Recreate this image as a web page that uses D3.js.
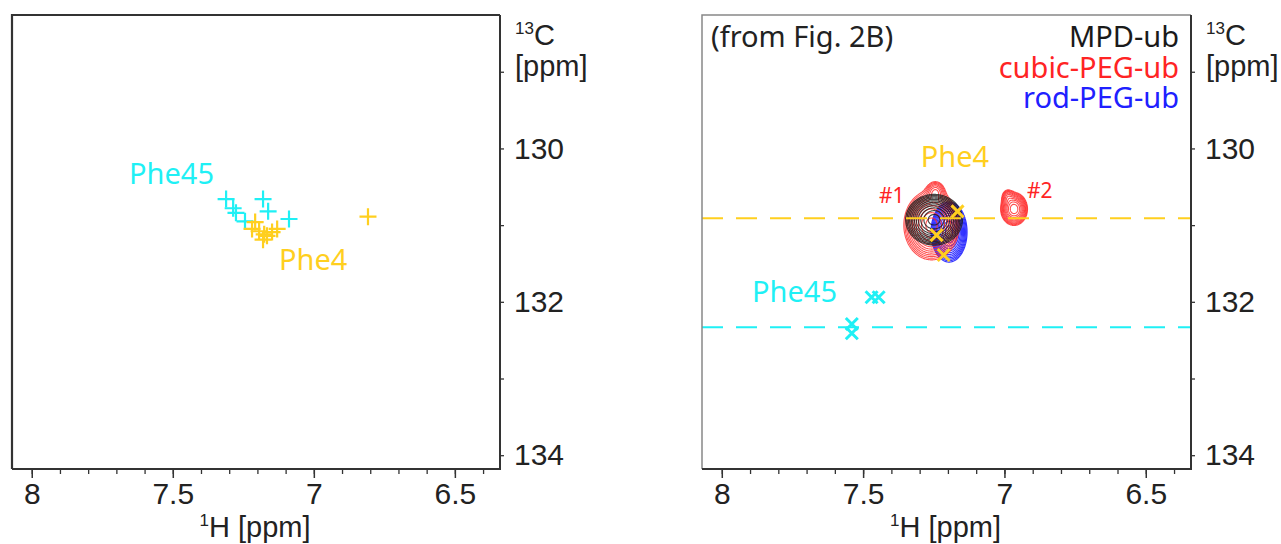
<!DOCTYPE html>
<html>
<head>
<meta charset="utf-8">
<script src="https://cdn.jsdelivr.net/npm/d3@7"></script>
<style>
  html, body { margin: 0; padding: 0; background: #fff; }
  svg { display: block; }
  .tick text { font-family: "Liberation Sans", Arial, sans-serif; }
</style>
</head>
<body>
<svg id="chart" width="1281" height="544"></svg>
<script>
// ---- axis ranges (ppm) ----
const hDomain = [8.07, 6.34];
const cDomain = [128.26, 134.18];
const hMajorTicks = [8, 7.5, 7, 6.5];
const hMinorTicks = [8.0, 7.9, 7.8, 7.7, 7.6, 7.5, 7.4, 7.3, 7.2, 7.1, 7.0, 6.9, 6.8, 6.7, 6.6, 6.5, 6.4];
const cTicks = [129, 130, 131, 132, 133, 134];
const cTickLabels = [130, 132, 134];

// ---- predicted shifts (left panel) ----
const phe45Pred = [
  [7.311, 130.66], [7.286, 130.78], [7.276, 130.84], [7.244, 130.95],
  [7.180, 130.66], [7.162, 130.82], [7.088, 130.92]
];
const phe4Pred = [
  [7.208, 130.96], [7.219, 131.05], [7.194, 131.08], [7.176, 131.12],
  [7.148, 131.09], [7.130, 131.05], [7.180, 131.19], [7.166, 131.14],
  [6.808, 130.89]
];

// ---- predicted shifts (right panel) ----
const phe4Marks = [[7.166, 130.82], [7.240, 131.13], [7.215, 131.39]];
const phe45Marks = [[7.470, 131.94], [7.445, 131.94], [7.540, 132.29], [7.540, 132.41]];
const phe4Ref = 130.91;
const phe45Ref = 132.33;

// ---- observed peaks: [1H ppm, 13C ppm, width 1H, width 13C, height] ----
const mpdPeaks = [[7.249, 130.93, 0.041, 0.135, 1.0]];
const cubicPeaks = [
  [7.258, 131.00, 0.040, 0.185, 1.0],
  [7.244, 130.57, 0.017, 0.075, 0.22],
  [6.966, 130.79, 0.020, 0.090, 0.85],
  [6.988, 130.63, 0.012, 0.055, 0.15]
];
const rodPeaks = [[7.196, 131.09, 0.026, 0.160, 1.0]];
const contourLevels = [0.05, 0.065, 0.085, 0.11, 0.143, 0.186, 0.24, 0.31, 0.40, 0.52, 0.68, 0.88];

// ---- text ----
const legendNames = ["MPD-ub", "cubic-PEG-ub", "rod-PEG-ub"];
const legendColors = ["#1a1a1a", "#ff2424", "#2020ff"];
const CYAN = "#1ff0f5";
const GOLD = "#ffcf1f";

const svg = d3.select("#chart");
const plotTop = 15, plotBottom = 469;
const arial = "Liberation Sans, Arial, sans-serif";
const noto = "Noto Sans, sans-serif";

function makePanel(left, right, borderColor) {
  const x = d3.scaleLinear().domain(hDomain).range([left, right]);
  const y = d3.scaleLinear().domain(cDomain).range([plotTop, plotBottom]);
  const g = svg.append("g");
  const clipId = "clip" + left;
  svg.append("clipPath").attr("id", clipId)
    .append("rect").attr("x", left).attr("y", plotTop)
    .attr("width", right - left).attr("height", plotBottom - plotTop);
  const plot = g.append("g").attr("clip-path", `url(#${clipId})`);

  // bottom axis: minor + major ticks
  g.append("g").attr("transform", `translate(0,${plotBottom})`)
    .call(d3.axisBottom(x).tickValues(hMinorTicks).tickSize(5).tickFormat(""))
    .call(a => a.select(".domain").remove())
    .selectAll("line").attr("stroke", "#333").attr("stroke-width", 1.3);
  g.append("g").attr("transform", `translate(0,${plotBottom})`)
    .call(d3.axisBottom(x).tickValues(hMajorTicks).tickSize(9).tickPadding(5)
      .tickFormat(d => d3.format("~g")(d)))
    .call(a => a.select(".domain").remove())
    .call(a => a.selectAll("line").attr("stroke", "#333").attr("stroke-width", 1.5))
    .call(a => a.selectAll("text").attr("font-size", 30).attr("fill", "#222"));

  // right axis
  g.append("g").attr("transform", `translate(${right},0)`)
    .call(d3.axisRight(y).tickValues(cTicks).tickSize(4).tickPadding(10)
      .tickFormat(d => cTickLabels.includes(d) ? d : ""))
    .call(a => a.select(".domain").remove())
    .call(a => a.selectAll("line").attr("stroke", "#333").attr("stroke-width", 1.3))
    .call(a => a.selectAll("text").attr("font-size", 30).attr("fill", "#222"));

  // frame
  g.append("path")
    .attr("d", `M${left},${plotBottom}V${plotTop}H${right}`)
    .attr("fill", "none").attr("stroke", borderColor)
    .attr("stroke-width", borderColor === "#333" ? 2.2 : 1.5);
  g.append("path")
    .attr("d", `M${left},${plotBottom}H${right}V${plotTop}`)
    .attr("fill", "none").attr("stroke", "#333").attr("stroke-width", 2);

  // axis titles
  const xt = g.append("text")
    .attr("x", (left + right) / 2 - 1).attr("y", 537)
    .attr("text-anchor", "middle")
    .attr("font-family", arial).attr("font-size", 29).attr("fill", "#222");
  xt.append("tspan").attr("font-size", 17).attr("dy", -11).text("1");
  xt.append("tspan").attr("dy", 11).text("H [ppm]");

  const yt = g.append("text")
    .attr("x", right + 15).attr("y", 45)
    .attr("font-family", arial).attr("font-size", 29).attr("fill", "#222");
  yt.append("tspan").attr("font-size", 17).attr("dy", -11).text("13");
  yt.append("tspan").attr("dy", 11).text("C");
  g.append("text")
    .attr("x", right + 15).attr("y", 76)
    .attr("font-family", arial).attr("font-size", 29).attr("fill", "#222")
    .text("[ppm]");

  return { x, y, g, plot };
}

// ---------- left panel ----------
const L = makePanel(12, 500, "#333");

function plusMarks(panel, data, color) {
  const arm = 8.5;
  panel.plot.append("g").selectAll("path").data(data).join("path")
    .attr("d", d => {
      const cx = panel.x(d[0]), cy = panel.y(d[1]);
      return `M${cx - arm},${cy}H${cx + arm}M${cx},${cy - arm}V${cy + arm}`;
    })
    .attr("stroke", color).attr("stroke-width", 2.2).attr("fill", "none");
}
plusMarks(L, phe45Pred, CYAN);
plusMarks(L, phe4Pred, GOLD);

L.g.append("text").attr("x", 129).attr("y", 184)
  .attr("font-family", noto).attr("font-size", 29)
  .attr("fill", CYAN).text("Phe45");
L.g.append("text").attr("x", 279).attr("y", 270)
  .attr("font-family", noto).attr("font-size", 29)
  .attr("fill", GOLD).text("Phe4");

// ---------- right panel ----------
const R = makePanel(702, 1191, "#888");

// contour grid in ppm
const gH0 = 6.80, gH1 = 7.45, gC0 = 130.2, gC1 = 131.9;
const nx = 260, ny = 170;
const dH = (gH1 - gH0) / nx, dC = (gC1 - gC0) / ny;

function spectrum(peaks) {
  const v = new Float64Array(nx * ny);
  for (let j = 0; j < ny; j++) {
    const c = gC0 + (j + 0.5) * dC;
    for (let i = 0; i < nx; i++) {
      const h = gH0 + (i + 0.5) * dH;
      let s = 0;
      for (const [ph, pc, wh, wc, a] of peaks) {
        s += a * Math.exp(-0.5 * (((h - ph) / wh) ** 2 + ((c - pc) / wc) ** 2));
      }
      v[j * nx + i] = s;
    }
  }
  return v;
}

const gridToPx = d3.geoTransform({
  point: function (gx, gy) {
    this.stream.point(R.x(gH0 + gx * dH), R.y(gC0 + gy * dC));
  }
});
const contourPath = d3.geoPath(gridToPx);

function drawSpectrum(peaks, color, width, opacity) {
  const cs = d3.contours().size([nx, ny]).thresholds(contourLevels)(spectrum(peaks));
  R.plot.append("g").selectAll("path").data(cs).join("path")
    .attr("d", contourPath)
    .attr("fill", "none").attr("stroke", color)
    .attr("stroke-width", width).attr("stroke-opacity", opacity);
}
drawSpectrum(rodPeaks, legendColors[2], 1.2, 0.9);
drawSpectrum(cubicPeaks, legendColors[1], 1.1, 0.8);
drawSpectrum(mpdPeaks, legendColors[0], 1.2, 0.8);

// reference lines
[[phe4Ref, GOLD], [phe45Ref, CYAN]].forEach(([v, col]) => {
  R.plot.append("line")
    .attr("x1", R.x(hDomain[0])).attr("x2", R.x(hDomain[1]))
    .attr("y1", R.y(v)).attr("y2", R.y(v))
    .attr("stroke", col).attr("stroke-width", 2)
    .attr("stroke-dasharray", "21,13");
});

function crossMarks(panel, data, color) {
  const arm = 6;
  panel.plot.append("g").selectAll("path").data(data).join("path")
    .attr("d", d => {
      const cx = panel.x(d[0]), cy = panel.y(d[1]);
      return `M${cx - arm},${cy - arm}L${cx + arm},${cy + arm}M${cx - arm},${cy + arm}L${cx + arm},${cy - arm}`;
    })
    .attr("stroke", color).attr("stroke-width", 3).attr("fill", "none");
}
crossMarks(R, phe4Marks, GOLD);
crossMarks(R, phe45Marks, CYAN);

// annotations
R.g.append("text").attr("x", 711).attr("y", 47)
  .attr("font-family", noto).attr("font-size", 29).attr("fill", "#222")
  .text("(from Fig. 2B)");
R.g.append("g").selectAll("text").data(legendNames).join("text")
  .attr("x", 1179).attr("y", (d, i) => 47 + i * 30.5)
  .attr("text-anchor", "end")
  .attr("font-family", noto).attr("font-size", 29)
  .attr("fill", (d, i) => legendColors[i]).text(d => d);

R.g.append("text").attr("x", 955).attr("y", 167).attr("text-anchor", "middle")
  .attr("font-family", noto).attr("font-size", 29).attr("fill", GOLD).text("Phe4");
R.g.append("text").attr("x", 752).attr("y", 302)
  .attr("font-family", noto).attr("font-size", 29).attr("fill", CYAN).text("Phe45");
R.g.append("text").attr("x", 879).attr("y", 203)
  .attr("font-family", noto).attr("font-size", 21).attr("fill", "#ff2424").text("#1");
R.g.append("text").attr("x", 1027).attr("y", 198)
  .attr("font-family", noto).attr("font-size", 21).attr("fill", "#ff2424").text("#2");
</script>
</body>
</html>
